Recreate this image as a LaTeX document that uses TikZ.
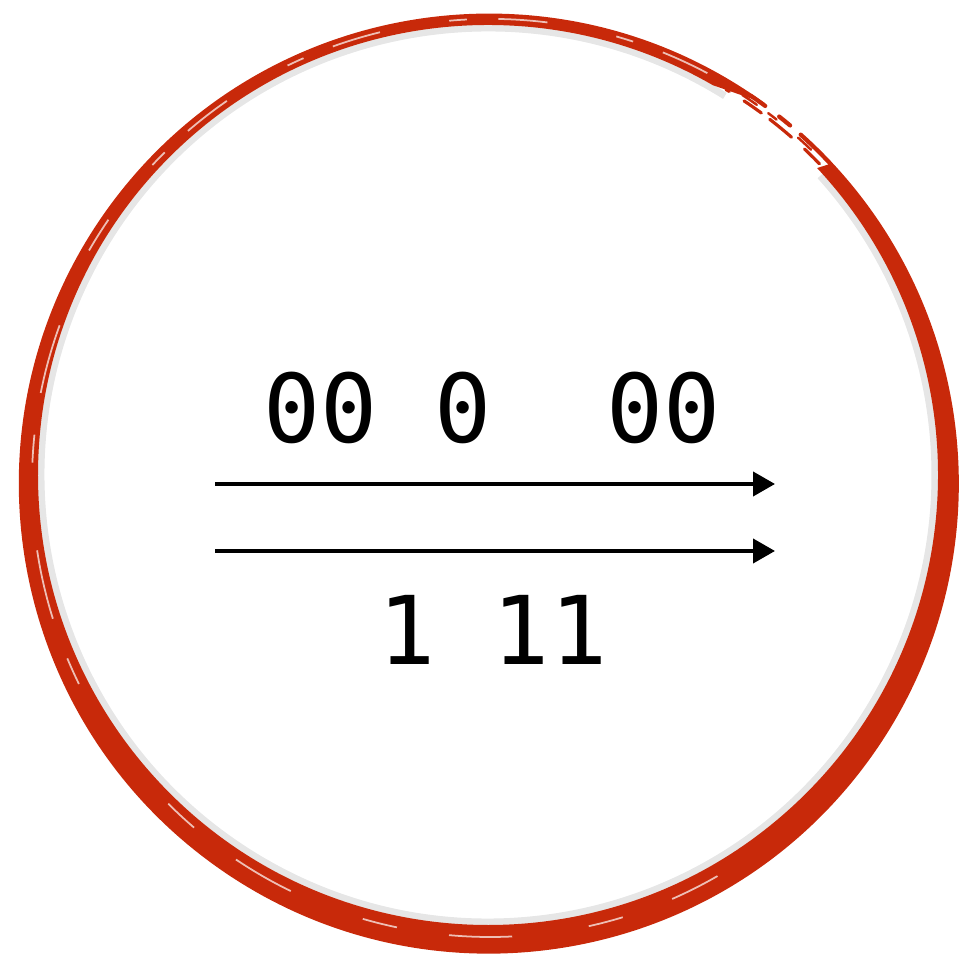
\documentclass[tikz,border=0pt]{standalone}
\usepackage{fontspec}
\setmonofont{DejaVu Sans Mono}
\usepackage{tikz}
\usetikzlibrary{arrows.meta,calc}
\definecolor{brushcol}{HTML}{C8290A}
\definecolor{shadowc}{HTML}{9A9A9A}

\begin{document}
\begin{tikzpicture}[
  bits/.style={font=\ttfamily\fontsize{27}{32}\selectfont,inner sep=0pt,anchor=base},
  ar/.style={-{Triangle[length=2.2mm,width=2.4mm]},line width=0.4mm,black},
  streak/.style={white,line width=0.5pt,opacity=0.7},
  scratch/.style={brushcol,line width=1.2pt,line cap=round},
]
\useasboundingbox (0,0) rectangle (9.59,9.59);
\coordinate (o1) at (4.90,4.77);
\coordinate (o2) at (4.88,4.84);
% soft shadow under the brush ring
\draw[shadowc,opacity=0.25,line width=2pt]
  ($(o2)+(58:4.47)$) arc[start angle=58,end angle=402,radius=4.47];
% the brush ring, tapering into the gap
\fill[brushcol]
  ($(o1)+(54:4.68)$) arc[start angle=54,end angle=403,radius=4.70]
  -- ($(o2)+(403:4.50)$) arc[start angle=403,end angle=60,radius=4.50] -- cycle;
% scratchy ends near the gap
\draw[scratch,dash pattern=on 12pt off 4pt on 4pt off 5pt]
  ($(o1)+(43:4.66)$) arc[start angle=43,end angle=56,radius=4.66];
\draw[scratch,line width=0.9pt,dash pattern=on 6pt off 5pt on 8pt off 3pt]
  ($(o1)+(44:4.58)$) arc[start angle=44,end angle=59,radius=4.58];
\draw[scratch,line width=0.7pt,dash pattern=on 5pt off 8pt on 3pt off 4pt]
  ($(o1)+(46:4.62)$) arc[start angle=46,end angle=58,radius=4.62];
% dry brush streaks
\draw[streak,dash pattern=on 14pt off 9pt on 5pt off 20pt]
  ($(o1)+(62:4.63)$) arc[start angle=62,end angle=150,radius=4.63];
\draw[streak,dash pattern=on 20pt off 12pt on 8pt off 25pt]
  ($(o1)+(160:4.58)$) arc[start angle=160,end angle=210,radius=4.58];
\draw[streak,dash pattern=on 10pt off 15pt on 18pt off 22pt]
  ($(o1)+(225:4.55)$) arc[start angle=225,end angle=300,radius=4.55];

% the two rows of bits
\node[bits] (zeros) at (4.92,5.16) {00 0\ \ 00};
\node[bits] (ones) at (4.93,2.94) {1 11};
\coordinate (topS) at (2.15,4.75);
\coordinate (topE) at (7.75,4.75);
\coordinate (botS) at (2.15,4.08);
\coordinate (botE) at (7.75,4.08);
\draw[ar] (topS) -- (topE);
\draw[ar] (botS) -- (botE);
\end{tikzpicture}
\end{document}
